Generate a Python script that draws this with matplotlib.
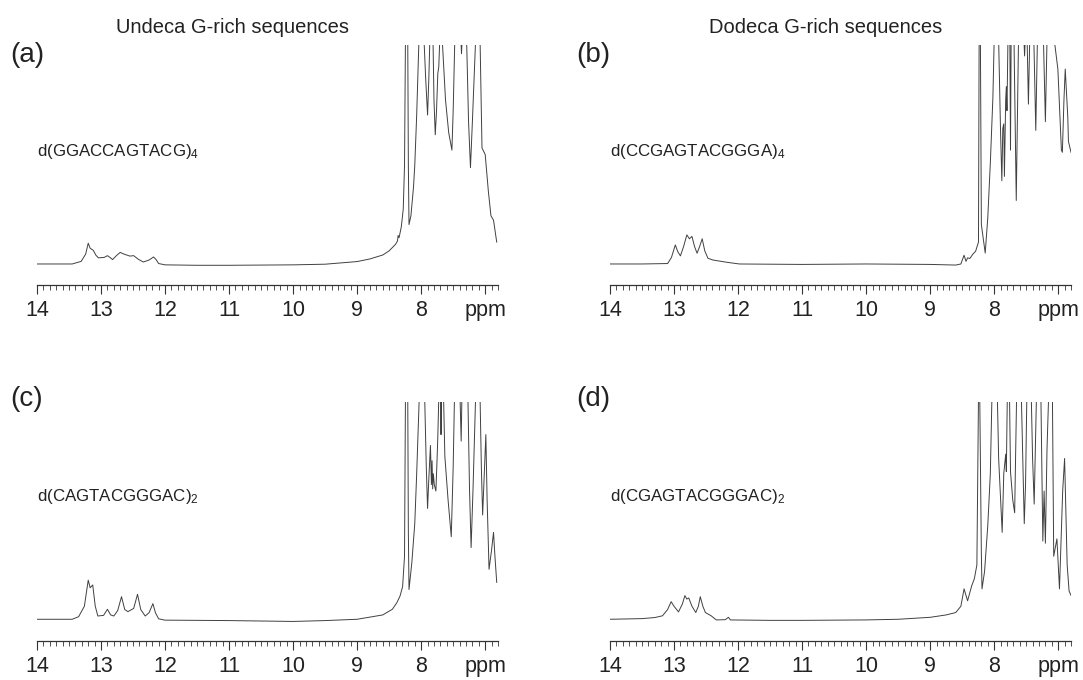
import numpy as np
import matplotlib.pyplot as plt
from matplotlib.ticker import MultipleLocator

plt.rcParams['font.family'] = ['Liberation Sans', 'DejaVu Sans']
plt.rcParams['mathtext.fontset'] = 'custom'
plt.rcParams['mathtext.rm'] = 'Liberation Sans'
plt.rcParams['mathtext.default'] = 'regular'

# spectra: (ppm, intensity), intensity 1.0 = top of the frame
spec_a = [
    (14.00, 0.000), (13.45, 0.000), (13.31, 0.012), (13.24, 0.045), (13.20, 0.095),
    (13.17, 0.072), (13.12, 0.062), (13.08, 0.040), (13.04, 0.028), (12.95, 0.030),
    (12.90, 0.038), (12.86, 0.030), (12.82, 0.020), (12.76, 0.038), (12.70, 0.053),
    (12.65, 0.046), (12.60, 0.041), (12.55, 0.036), (12.49, 0.038), (12.42, 0.022),
    (12.34, 0.009), (12.25, 0.018), (12.18, 0.032), (12.14, 0.020), (12.10, 0.002),
    (12.00, -0.004), (11.50, -0.006), (11.00, -0.006), (10.50, -0.005), (10.00, -0.004),
    (9.50, -0.001), (9.00, 0.011), (8.80, 0.023), (8.60, 0.041), (8.50, 0.060),
    (8.40, 0.090), (8.37, 0.105), (8.36, 0.130), (8.345, 0.120), (8.31, 0.170),
    (8.28, 0.25), (8.26, 0.45), (8.245, 1.05), (8.225, 1.4), (8.21, 1.05),
    (8.20, 0.45), (8.19, 0.18), (8.16, 0.22), (8.12, 0.35), (8.10, 0.45),
    (8.07, 0.68), (8.035, 1.02), (8.00, 1.4), (7.955, 1.02), (7.93, 0.85),
    (7.90, 0.68), (7.88, 0.85), (7.865, 1.02), (7.85, 1.3), (7.815, 1.02),
    (7.80, 0.75), (7.78, 0.59), (7.76, 0.70), (7.74, 0.87), (7.725, 0.90),
    (7.71, 1.02), (7.69, 1.3), (7.67, 1.02), (7.62, 0.75), (7.57, 0.60),
    (7.52, 0.52), (7.50, 0.70), (7.475, 1.02), (7.45, 1.3), (7.39, 1.1),
    (7.37, 0.96), (7.35, 1.1), (7.32, 1.3), (7.29, 1.02), (7.26, 0.65),
    (7.23, 0.44), (7.20, 0.65), (7.15, 1.02), (7.10, 1.3), (7.08, 1.02),
    (7.05, 0.53), (7.00, 0.50), (6.95, 0.33), (6.91, 0.22), (6.87, 0.20),
    (6.82, 0.10),
]

spec_b = [
    (14.00, 0.000), (13.50, 0.000), (13.10, 0.002), (13.04, 0.030), (12.98, 0.087),
    (12.94, 0.055), (12.90, 0.037), (12.85, 0.080), (12.80, 0.133), (12.76, 0.115),
    (12.72, 0.126), (12.68, 0.080), (12.64, 0.049), (12.60, 0.080), (12.56, 0.115),
    (12.52, 0.060), (12.47, 0.026), (12.39, 0.018), (12.18, 0.008), (11.98, 0.000),
    (11.50, -0.001), (11.00, -0.002), (10.50, -0.001), (10.00, 0.000), (9.50, -0.001),
    (9.00, -0.002), (8.60, -0.005), (8.52, 0.000), (8.47, 0.040), (8.44, 0.012),
    (8.415, 0.028), (8.38, 0.025), (8.33, 0.046), (8.29, 0.058), (8.245, 0.10),
    (8.235, 1.02), (8.225, 1.4), (8.215, 1.02), (8.20, 0.18), (8.14, 0.05),
    (8.10, 0.21), (8.06, 0.46), (8.02, 0.76), (8.00, 1.02), (7.98, 1.4),
    (7.93, 1.02), (7.90, 0.60), (7.88, 0.38), (7.865, 0.62), (7.85, 0.64),
    (7.84, 0.40), (7.82, 0.75), (7.81, 0.81), (7.80, 0.70), (7.785, 1.02),
    (7.77, 1.3), (7.755, 1.02), (7.745, 0.52), (7.735, 1.02), (7.72, 1.3),
    (7.69, 1.02), (7.655, 0.29), (7.62, 1.02), (7.59, 1.4), (7.545, 1.1),
    (7.525, 0.95), (7.505, 1.1), (7.485, 1.02), (7.465, 0.73), (7.445, 1.02),
    (7.42, 1.3), (7.38, 1.02), (7.35, 0.61), (7.325, 1.02), (7.29, 1.3),
    (7.23, 1.02), (7.20, 0.65), (7.175, 1.02), (7.12, 1.3), (7.06, 1.02),
    (7.005, 0.89), (6.95, 0.52), (6.935, 0.51), (6.91, 0.75), (6.89, 0.89),
    (6.85, 0.67), (6.84, 0.56), (6.80, 0.51),
]

spec_c = [
    (14.00, 0.000), (13.45, 0.000), (13.35, 0.012), (13.26, 0.060), (13.20, 0.180),
    (13.17, 0.145), (13.13, 0.158), (13.09, 0.060), (13.05, 0.015), (12.96, 0.018),
    (12.90, 0.046), (12.85, 0.020), (12.80, 0.015), (12.74, 0.040), (12.68, 0.104),
    (12.63, 0.045), (12.58, 0.035), (12.49, 0.050), (12.43, 0.115), (12.38, 0.045),
    (12.31, 0.015), (12.25, 0.030), (12.19, 0.072), (12.15, 0.030), (12.10, 0.002),
    (12.00, -0.004), (11.50, -0.005), (11.00, -0.006), (10.50, -0.008), (10.00, -0.010),
    (9.50, -0.006), (9.00, 0.000), (8.80, 0.010), (8.60, 0.020), (8.45, 0.046),
    (8.38, 0.076), (8.33, 0.107), (8.29, 0.15), (8.26, 0.29), (8.245, 1.05),
    (8.225, 1.4), (8.21, 1.05), (8.20, 0.40), (8.19, 0.137), (8.146, 0.26),
    (8.10, 0.44), (8.07, 0.67), (8.03, 1.02), (8.00, 1.4), (7.945, 1.02),
    (7.92, 0.70), (7.90, 0.51), (7.88, 0.65), (7.855, 0.80), (7.84, 0.62),
    (7.83, 0.73), (7.82, 0.60), (7.81, 0.67), (7.795, 0.62), (7.77, 0.59),
    (7.75, 0.75), (7.74, 0.84), (7.725, 1.02), (7.71, 1.2), (7.695, 1.02),
    (7.69, 0.85), (7.685, 1.02), (7.67, 1.3), (7.65, 1.02), (7.63, 0.75),
    (7.58, 0.55), (7.53, 0.38), (7.50, 0.70), (7.48, 1.02), (7.46, 1.3),
    (7.40, 1.1), (7.375, 0.82), (7.36, 1.1), (7.32, 1.3), (7.27, 1.02),
    (7.245, 0.60), (7.22, 0.33), (7.19, 0.60), (7.15, 1.02), (7.12, 1.3),
    (7.08, 1.02), (7.06, 0.70), (7.04, 0.48), (7.01, 0.70), (6.99, 0.85),
    (6.97, 0.55), (6.94, 0.23), (6.90, 0.32), (6.87, 0.40), (6.85, 0.30),
    (6.82, 0.17),
]

spec_d = [
    (14.00, 0.000), (13.50, 0.003), (13.30, 0.008), (13.18, 0.016), (13.10, 0.045),
    (13.045, 0.081), (13.00, 0.060), (12.93, 0.034), (12.87, 0.070), (12.83, 0.109),
    (12.80, 0.093), (12.77, 0.098), (12.72, 0.060), (12.66, 0.031), (12.62, 0.060),
    (12.59, 0.104), (12.55, 0.060), (12.51, 0.031), (12.42, 0.016), (12.34, -0.003),
    (12.20, -0.002), (12.15, 0.009), (12.12, -0.003), (11.50, -0.005), (11.00, -0.005),
    (10.50, -0.004), (10.00, -0.003), (9.50, 0.000), (9.00, 0.009), (8.75, 0.020),
    (8.60, 0.031), (8.52, 0.060), (8.47, 0.140), (8.415, 0.085), (8.35, 0.155),
    (8.31, 0.186), (8.27, 0.25), (8.245, 1.02), (8.235, 1.4), (8.225, 1.02),
    (8.20, 0.30), (8.19, 0.14), (8.15, 0.22), (8.10, 0.43), (8.06, 0.67),
    (8.035, 1.02), (8.00, 1.4), (7.95, 1.02), (7.93, 0.74), (7.875, 0.40),
    (7.85, 0.67), (7.82, 0.76), (7.81, 0.68), (7.795, 1.02), (7.78, 1.3),
    (7.76, 1.02), (7.745, 0.68), (7.71, 0.55), (7.68, 0.49), (7.65, 1.02),
    (7.63, 1.4), (7.575, 1.02), (7.53, 0.44), (7.51, 0.62), (7.49, 1.02),
    (7.475, 1.4), (7.42, 1.02), (7.40, 0.74), (7.375, 0.53), (7.34, 1.02),
    (7.32, 1.4), (7.27, 1.02), (7.24, 0.36), (7.22, 0.59), (7.20, 0.35),
    (7.175, 0.78), (7.15, 1.02), (7.11, 1.4), (7.09, 1.02), (7.07, 0.29),
    (7.02, 0.37), (6.98, 0.14), (6.93, 0.59), (6.90, 0.74), (6.86, 0.25),
    (6.83, 0.13), (6.80, 0.11),
]

panel_tags = ['(a)', '(b)', '(c)', '(d)']
sequences = ['d(GGACCAGTACG)$_4$', 'd(CCGAGTACGGGA)$_4$',
             'd(CAGTACGGGAC)$_2$', 'd(CGAGTACGGGAC)$_2$']
column_titles = ['Undeca G-rich sequences', 'Dodeca G-rich sequences']
tick_pos = [14, 13, 12, 11, 10, 9, 8, 7]
tick_lab = ['14', '13', '12', '11', '10', '9', '8', 'ppm']

W, H = 1083, 680
line_c = '#404040'
text_c = '#222222'

fig = plt.figure(figsize=(W / 100, H / 100), dpi=100)

# pixel boxes: left, axis line y, top y
boxes = [(37, 285, 45), (610, 285, 45), (37, 641, 402), (610, 641, 402)]
base_off = [0.096, 0.096, 0.10, 0.10]
specs = [spec_a, spec_b, spec_c, spec_d]

for i, (left, ybot, ytop) in enumerate(boxes):
    ax = fig.add_axes([left / W, 1 - ybot / H, 461 / W, (ybot - ytop) / H])
    ppm, inten = np.array(specs[i]).T
    ax.plot(ppm, inten, color=line_c, lw=0.7)
    ax.set_xlim(14, 6.8)
    ax.set_ylim(-base_off[i], 1.0)
    for s in ['left', 'right', 'top']:
        ax.spines[s].set_visible(False)
    ax.spines['bottom'].set_color('#333333')
    ax.spines['bottom'].set_linewidth(0.9)
    ax.set_yticks([])
    ax.set_xticks(tick_pos)
    ax.set_xticklabels(tick_lab)
    ax.xaxis.set_minor_locator(MultipleLocator(0.1))
    ax.tick_params(axis='x', which='major', direction='out', length=6.5, width=0.8,
                   color='#333333', labelsize=15.5, labelcolor=text_c, pad=4)
    ax.tick_params(axis='x', which='minor', direction='out', length=3.5, width=0.6,
                   color='#333333')
    ax.patch.set_visible(False)

    # panel tag and sequence label
    tag_y = 62 if i < 2 else 406
    seq_y = 156 if i < 2 else 501
    tag_x = 10 if i % 2 == 0 else 576
    fig.text(tag_x / W, 1 - tag_y / H, panel_tags[i], fontsize=20, color=text_c,
             ha='left', va='baseline')
    fig.text(left / W, 1 - seq_y / H, sequences[i], fontsize=12.2, color=text_c,
             ha='left', va='baseline')

fig.text(232 / W, 1 - 33 / H, column_titles[0], fontsize=14.5, color=text_c,
         ha='center', va='baseline')
fig.text(826 / W, 1 - 33 / H, column_titles[1], fontsize=14.5, color=text_c,
         ha='center', va='baseline')

fig.savefig('out.png', dpi=100)
